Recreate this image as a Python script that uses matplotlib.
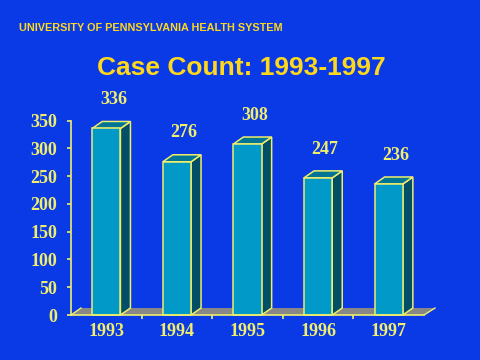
import matplotlib
matplotlib.use("Agg")
import matplotlib.pyplot as plt
from matplotlib.patches import Polygon

# data
years = ["1993", "1994", "1995", "1996", "1997"]
cases = [336, 276, 308, 247, 236]
yticks = [0, 50, 100, 150, 200, 250, 300, 350]

BG = "#0a3ae6"
FRONT = "#0099c8"
TOP = "#007596"
SIDE = "#004f66"
EDGE = "#f0ee6c"
FLOOR = "#878787"
TITLE_YEL = "#ffd81c"

fig = plt.figure(figsize=(4.8, 3.6), dpi=100, facecolor=BG)
ax = fig.add_axes([71 / 480, 45 / 360, 353 / 480, 194.3 / 360])
ax.set_facecolor("none")

xs = list(range(len(years)))
width = 0.4
dx = 0.142   # depth offset in data units (x)
dy = 12.6    # depth offset in data units (y)

ax.set_xlim(-0.5, len(years) - 0.5)
ax.set_ylim(0, 350)

# floor
floor = Polygon([(-0.5, 0), (len(years) - 0.5, 0), (len(years) - 0.5 + dx * 1.1, dy),
                 (-0.5 + dx, dy)], closed=True, facecolor=FLOOR, edgecolor="none",
                clip_on=False, zorder=1)
ax.add_patch(floor)
ax.plot([-0.5, -0.5 + dx], [0, dy], color=EDGE, lw=1.0, clip_on=False, zorder=1.5)
ax.plot([len(years) - 0.5, len(years) - 0.5 + dx * 1.1], [0, dy], color=EDGE, lw=1.0,
        clip_on=False, zorder=1.5)

# bars
for x, v in zip(xs, cases):
    l, r = x - width / 2, x + width / 2
    side = Polygon([(r, 0), (r + dx, dy), (r + dx, v + dy), (r, v)], closed=True,
                   facecolor=SIDE, edgecolor=EDGE, lw=1.1, clip_on=False, zorder=2)
    top = Polygon([(l, v), (r, v), (r + dx, v + dy), (l + dx, v + dy)], closed=True,
                  facecolor=TOP, edgecolor=EDGE, lw=1.1, clip_on=False, zorder=2)
    ax.add_patch(side)
    ax.add_patch(top)
ax.bar(xs, cases, width=width, color=FRONT, edgecolor=EDGE, linewidth=1.1, zorder=3,
       clip_on=False)

for x, v in zip(xs, cases):
    ax.text(x + 0.1, v + 52, str(v), ha="center", va="center", color=EDGE,
            fontsize=13, fontweight="bold", family="Liberation Serif", clip_on=False)

for s in ["top", "right"]:
    ax.spines[s].set_visible(False)
ax.spines["left"].set_color(EDGE)
ax.spines["bottom"].set_color(EDGE)
ax.spines["left"].set_linewidth(1.2)
ax.spines["bottom"].set_linewidth(1.2)
ax.spines["bottom"].set_zorder(4)

ax.set_yticks(yticks)
ax.set_yticklabels([str(t) for t in yticks])
ax.set_xticks(xs)
ax.set_xticklabels(years)
ax.set_xticks([x + 0.5 for x in xs[:-1]], minor=True)
ax.tick_params(axis="y", colors=EDGE, length=3, width=1.2, pad=7, labelsize=13)
ax.tick_params(axis="x", which="major", length=0, pad=6, labelsize=13, labelcolor=EDGE)
ax.tick_params(axis="x", which="minor", length=3, width=1.2, color=EDGE)
for lab in ax.get_xticklabels() + ax.get_yticklabels():
    lab.set_family("Liberation Serif")
    lab.set_fontweight("bold")

fig.text(19 / 480, 1 - 28 / 360, "UNIVERSITY OF PENNSYLVANIA HEALTH SYSTEM", ha="left",
         va="center", color=TITLE_YEL, fontsize=7.8, fontweight="bold", family="Liberation Sans")
fig.text(241 / 480, 1 - 68 / 360, "Case Count: 1993-1997", ha="center", va="center",
         color=TITLE_YEL, fontsize=19, fontweight="bold", family="Liberation Sans")

fig.savefig("out.png", dpi=100, facecolor=BG)
